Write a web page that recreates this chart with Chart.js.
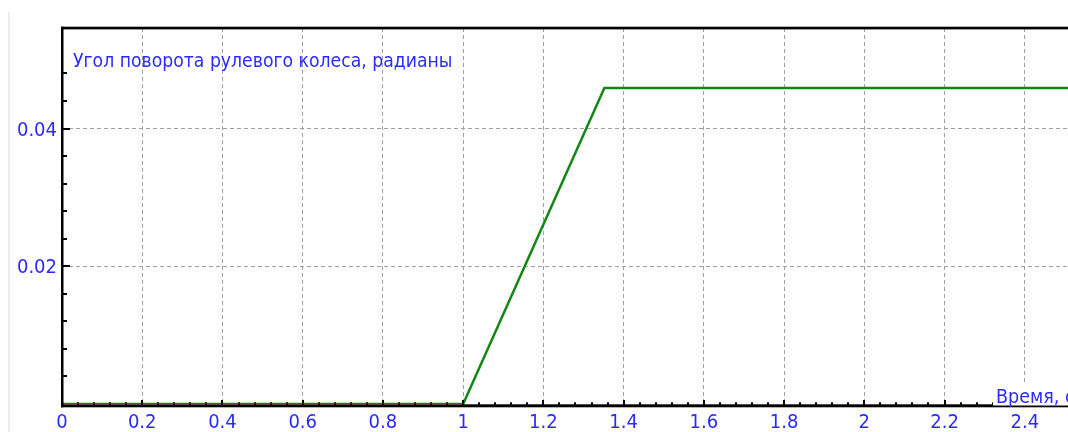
<!DOCTYPE html>
<html>
<head>
<meta charset="utf-8">
<script src="https://cdn.jsdelivr.net/npm/chart.js@4.4.1/dist/chart.umd.min.js"></script>
<style>
  html, body { margin: 0; padding: 0; background: #fff; overflow: hidden; }
  #wrap { position: relative; width: 1068px; height: 432px; overflow: hidden; }
  #edge { position: absolute; left: 8px; top: 12px; width: 2px; height: 420px; background: #ececec; }
  canvas { position: absolute; left: 0; top: 0; }
</style>
</head>
<body>
<div id="wrap">
  <div id="edge"></div>
  <canvas id="steerChart" width="1105" height="432"></canvas>
</div>
<script>
// --- data ---
const timeValues  = [0, 1.0, 1.352, 2.6];          // время, с
const angleValues = [0, 0, 0.0459, 0.0459];        // угол поворота, рад

const xTickValues = [0, 0.2, 0.4, 0.6, 0.8, 1, 1.2, 1.4, 1.6, 1.8, 2, 2.2, 2.4];
const xTickLabels = ['0', '0.2', '0.4', '0.6', '0.8', '1', '1.2', '1.4', '1.6', '1.8', '2', '2.2', '2.4'];
const yTickValues = [0.02, 0.04];
const yTickLabels = ['0.02', '0.04'];

const yTitle = 'Угол поворота рулевого колеса, радианы';
const xTitle = 'Время, с';

const BLUE = '#2b2bff';
const GREEN = '#138713';
const FONT = '"DejaVu Sans Condensed", "DejaVu Sans", sans-serif';

// minor ticks, axis frame and the two captions
const framePlugin = {
    id: 'frame',
    afterDraw(chart) {
        const ctx = chart.ctx;
        const xs = chart.scales.x, ys = chart.scales.y;
        const W = chart.width;
        ctx.save();
        ctx.fillStyle = '#000';

        // x ticks (inside, pointing up)
        for (let i = 0; i <= 65; i++) {
            const v = i * 0.04;
            const px = Math.round(xs.getPixelForValue(v));
            const major = i % 5 === 0;
            ctx.fillRect(px - 1, major ? 400 : 402.3, 2, major ? 5 : 2.5);
        }
        // y ticks (inside, pointing right)
        for (let i = 1; i <= 12; i++) {
            const v = i * 0.004;
            const py = Math.round(ys.getPixelForValue(v));
            const major = i % 5 === 0;
            ctx.fillRect(62, py - 1, major ? 8 : 5, 2);
        }

        // frame lines
        ctx.fillRect(61, 26.7, 2.5, 380.6);      // left
        ctx.fillRect(61, 26.7, W, 2.7);          // top
        ctx.fillRect(61, 404.3, W, 3);           // bottom

        ctx.font = '19.2px ' + FONT;
        ctx.textBaseline = 'alphabetic';
        ctx.textAlign = 'left';

        // y caption inside the plot
        ctx.fillStyle = BLUE;
        ctx.fillText(yTitle, 73, 66.5);

        // x caption sitting on the axis
        ctx.font = '19.5px ' + FONT;
        const w = ctx.measureText(xTitle).width;
        ctx.fillStyle = '#fff';
        ctx.fillRect(993, 384, w + 8, 21.5);
        ctx.fillStyle = BLUE;
        ctx.fillText(xTitle, 996, 403);
        ctx.restore();
    }
};

new Chart(document.getElementById('steerChart'), {
    type: 'line',
    data: {
        datasets: [{
            data: timeValues.map((t, i) => ({ x: t, y: angleValues[i] })),
            borderColor: GREEN,
            borderWidth: 2.5,
            pointRadius: 0,
            tension: 0,
            fill: false
        }]
    },
    options: {
        responsive: false,
        animation: false,
        devicePixelRatio: 1,
        layout: { padding: { top: 28, left: 0, right: 0, bottom: 0 } },
        plugins: { legend: { display: false }, tooltip: { enabled: false } },
        scales: {
            x: {
                type: 'linear',
                min: 0, max: 2.6,
                afterBuildTicks: s => { s.ticks = xTickValues.map(v => ({ value: v })); },
                afterFit: s => { s.height = 28; s.paddingLeft = 0; s.paddingRight = 0; },
                ticks: {
                    autoSkip: false, maxRotation: 0, padding: 7,
                    color: BLUE, font: { family: FONT, size: 20 },
                    callback: (v, i) => xTickLabels[i]
                },
                grid: { color: '#a0a0a0', lineWidth: 1, drawTicks: false },
                border: { display: false, dash: [4, 3] }
            },
            y: {
                type: 'linear',
                min: 0, max: 0.0546,
                afterBuildTicks: s => { s.ticks = yTickValues.map(v => ({ value: v })); },
                afterFit: s => { s.width = 62; s.paddingTop = 0; s.paddingBottom = 0; },
                ticks: {
                    padding: 5, labelOffset: 2,
                    color: BLUE, font: { family: FONT, size: 20 },
                    callback: (v, i) => yTickLabels[i]
                },
                grid: { color: '#a0a0a0', lineWidth: 1, drawTicks: false },
                border: { display: false, dash: [4, 3] }
            }
        }
    },
    plugins: [framePlugin]
});
</script>
</body>
</html>
